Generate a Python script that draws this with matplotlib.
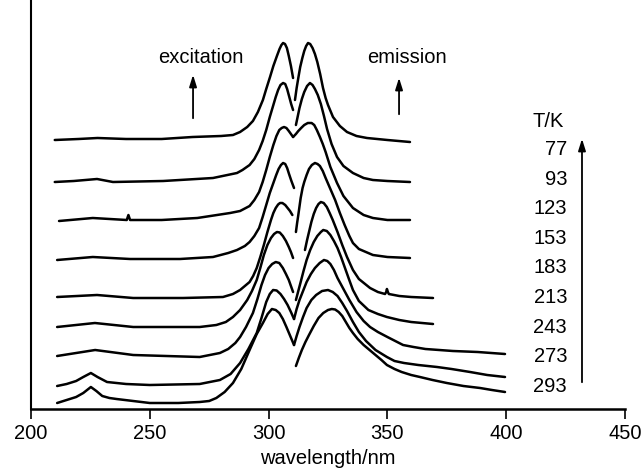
import matplotlib
matplotlib.use("Agg")
import matplotlib.pyplot as plt

plt.rcParams['font.family'] = ['Liberation Sans', 'DejaVu Sans']

# temperatures, top curve first
temps = [77, 93, 123, 153, 183, 213, 243, 273, 293]

# excitation / emission spectra (offset intensity, arb. units)
ex_nm_77 = [210, 220, 228, 240, 255, 268, 280, 285, 288, 291, 293.4, 295.5, 297.6, 299, 300.6, 302,
            303.5, 304.6, 305.4, 306.1, 306.9, 307.7, 308.5, 309.4, 310.3]
ex_in_77 = [269, 270, 271, 270, 270, 272, 273, 274, 277, 282, 288, 297, 309, 320, 332, 343,
            353, 360, 364, 366, 365, 361, 353, 343, 331]
em_nm_77 = [311.1, 311.8, 312.5, 313.3, 314.2, 315, 315.8, 316.6, 317.5, 318.5, 319.5, 320.5, 321.7,
            322.9, 324, 325, 327.1, 330, 333, 337, 341.4, 350, 359.5]
em_in_77 = [309, 321, 331, 342, 351, 358, 363, 366, 365, 361, 355, 347, 335,
            321, 311, 304, 292, 283, 277, 273, 271, 269, 267]

ex_nm_93 = [210, 218, 227.8, 234.5, 255.6, 276.6, 286.7, 289, 292, 294, 296, 297.5, 299, 300.5, 302,
            303, 304, 305, 306.1, 307, 307.8, 308.6, 309.5, 310.3]
ex_in_93 = [227, 228, 230, 227, 228, 231, 236, 239, 244, 250, 259, 268, 279, 292, 304,
            312, 319, 324, 326, 325, 320, 313, 305, 299]
em_nm_93 = [311.5, 312.3, 313, 314, 315, 316.2, 317.4, 318.5, 319.5, 320.7, 322, 323.3, 324.6,
            326.5, 328.8, 331.5, 335.5, 340, 343.9, 350, 359.5]
em_in_93 = [284, 293, 301, 310, 317, 323, 326, 324, 320, 314, 305, 293, 280,
            265, 252, 243, 236, 231, 229, 228, 227]

ex_nm_123 = [211.8, 226, 240.3, 241, 241.7, 255, 270, 283.8, 288, 292, 294, 296, 297.5, 299, 300.5,
             302, 303.3, 304.5, 305.5, 306.5, 307.5, 308.5, 309.4, 310.3]
ex_in_123 = [188, 191, 189, 194, 189, 189, 191, 196, 198, 203, 209, 217, 227, 239, 252,
             264, 273, 279, 281, 282, 281, 278, 275, 272]
em_nm_123 = [310.3, 311.5, 312.5, 313.7, 315, 316.5, 318.1, 319.2, 320.3, 321.6, 322.8, 324, 326,
             328.8, 331.5, 335.5, 340, 343.9, 350, 359.5]
em_in_123 = [272, 275, 278, 281, 284, 286, 286, 284, 279, 272, 265, 257, 242,
             226, 213, 201, 194, 191, 189, 189]

ex_nm_153 = [211, 226, 241.7, 262.7, 276.6, 283, 286.7, 290, 292, 294, 296, 297.5, 299, 300.5, 302,
             303.2, 304.2, 305.2, 306.1, 307, 307.8, 308.6, 309.6, 310.7]
ex_in_153 = [149, 152, 150, 150, 152, 156, 159, 163, 167, 173, 181, 192, 204, 216, 226,
             234, 240, 244, 246, 245, 241, 235, 228, 221]
em_nm_153 = [311.5, 312, 312.5, 313.5, 314.3, 315, 316, 317, 318.2, 319.5, 320.6, 321.6, 322.8, 324,
             326, 328, 330, 332, 334, 335.5, 338, 343.9, 350, 359.5]
em_in_153 = [177, 186, 194, 211, 221, 227, 234, 240, 244, 246, 245, 243, 238, 231,
             220, 209, 196, 184, 173, 166, 160, 154, 152, 151]

ex_nm_183 = [211, 227.8, 243, 264, 280.8, 285, 288, 290, 292, 293.5, 295, 296.5, 298, 299.5, 301,
             302, 303, 304, 304.8, 305.8, 307, 308, 309, 310]
ex_in_183 = [112, 114, 111, 111, 112, 115, 119, 123, 127, 133, 141, 152, 164, 177, 189,
             196, 201, 204.5, 206, 206, 204, 201, 198, 194]
em_nm_183 = [315.3, 316.2, 317, 318, 319, 320, 321, 322, 323.2, 324.5, 325.7, 327, 329, 331, 333,
             335.5, 338, 342.7, 346, 349, 349.5, 349.8, 350.2, 350.6, 355, 360, 369.2]
em_in_183 = [159, 169, 177, 187, 195, 201, 205, 207, 206, 202, 196, 189, 177, 164, 152,
             139, 130, 121, 117, 115, 117, 120, 117, 115, 113, 112, 111]

ex_nm_213 = [211, 226.9, 243, 271, 278, 282, 285, 288, 291, 293, 295, 296.5, 298, 299.5, 301,
             302.3, 303.5, 304.7, 306, 307.3, 308.5, 309.4, 310.3]
ex_in_213 = [82, 86, 82, 82, 84, 87, 92, 99, 109, 118, 129, 141, 154, 164, 171,
             175, 177, 176.5, 173, 168, 162, 157, 151]
em_nm_213 = [311.5, 312.5, 313.5, 314.7, 316, 317.5, 319, 320.5, 322, 323, 324.5, 326, 327.5, 329,
             330.5, 332, 333.8, 335.5, 338, 342, 346, 349.8, 355, 360, 369.2]
em_in_213 = [109, 118, 127, 138, 149, 159, 167, 173, 177, 179, 178, 174, 168, 161,
             152, 142, 130, 119, 108, 99, 95, 92, 89, 87, 85]

ex_nm_243 = [211, 227, 243, 271, 279.5, 283, 286, 288, 290.5, 293.4, 295.3, 297, 298.5, 300, 301.5,
             303, 304.5, 306, 307.3, 308.5, 309.4, 310.3]
ex_in_243 = [53, 59, 54, 52, 56, 60, 66, 72, 82, 96, 110, 124, 134, 141, 145,
             147, 146, 141, 135, 129, 123, 117]
em_nm_243 = [310.7, 311.8, 313, 314.5, 316, 317.8, 319.5, 321.5, 323.3, 324.7, 326, 327.5, 329,
             331.5, 334, 337, 340, 342.7, 346, 350, 356.6, 361, 366, 377.6, 388, 399.5]
em_in_243 = [90, 100, 109, 118, 127, 135, 141, 146, 149, 148, 145, 139, 131,
             120, 109, 97, 88, 82, 77, 72, 64, 62, 60, 58, 57, 55]

ex_nm_273 = [211, 215, 219, 222, 225.2, 228, 232, 240, 250, 271, 279.5, 284, 288, 291.5, 295, 297,
             299, 300.5, 301.9, 303.4, 305, 306.5, 308, 309.4, 310.7]
ex_in_273 = [23, 25, 28, 32, 36, 32, 27, 25, 24, 25, 29, 35, 46, 60, 76, 91,
             107, 115, 119, 118.5, 115, 110, 104, 97, 90]
em_nm_273 = [310.7, 311.8, 313, 314.5, 316, 318, 320, 322.5, 325, 327, 329, 331, 333, 335.5, 338,
             341, 345, 349.8, 353, 357, 363, 370.9, 377, 384.8, 392, 399.5]
em_in_273 = [64, 73, 82, 92, 101, 109, 114, 118, 119, 117, 113, 106, 98, 87, 77,
             68, 59, 52, 48, 46, 44, 42, 40, 37, 34, 32]

ex_nm_293 = [211, 215, 219, 222, 225.2, 227.5, 230, 233, 236, 243, 250, 262, 271, 275, 278, 281.5,
             285, 288.5, 292, 295, 297.6, 299.6, 301.4, 303, 304.5, 306, 307.5, 309.1, 310.7]
ex_in_293 = [6, 9, 12, 16, 22, 18, 13, 11, 10, 8, 6, 6, 7, 8, 11, 17,
             26, 40, 59, 75, 86, 95, 100, 99, 96, 90, 82, 73, 64]
em_nm_293 = [311.5, 312.7, 314, 315.5, 317, 319, 321, 323, 325, 326.6, 328, 329.5, 331, 332.5, 334,
             335.5, 337.5, 340, 342.5, 345, 347.5, 349.8, 353, 356, 360, 363.7, 369, 375, 382, 389,
             394, 399.5]
em_in_293 = [43, 51, 59, 67, 74, 83, 91, 96, 99, 100, 99.5, 97, 93, 87, 81,
             76, 70, 64, 59, 54, 49, 44, 40, 37, 34, 32, 29, 26, 23, 21,
             19, 17]

spectra = [
    (ex_nm_77, ex_in_77, em_nm_77, em_in_77),
    (ex_nm_93, ex_in_93, em_nm_93, em_in_93),
    (ex_nm_123, ex_in_123, em_nm_123, em_in_123),
    (ex_nm_153, ex_in_153, em_nm_153, em_in_153),
    (ex_nm_183, ex_in_183, em_nm_183, em_in_183),
    (ex_nm_213, ex_in_213, em_nm_213, em_in_213),
    (ex_nm_243, ex_in_243, em_nm_243, em_in_243),
    (ex_nm_273, ex_in_273, em_nm_273, em_in_273),
    (ex_nm_293, ex_in_293, em_nm_293, em_in_293),
]

fig = plt.figure(figsize=(6.43, 4.72), dpi=100)
ax = fig.add_axes([31 / 643, 63 / 472, 594 / 643, 409 / 472])

line_kw = dict(color="black", lw=1.8, solid_joinstyle="round", solid_capstyle="round")
for exx, exy, emx, emy in spectra:
    ax.plot(exx, exy, **line_kw)
    ax.plot(emx, emy, **line_kw)

ax.set_xlim(200, 450)
ax.set_ylim(0, 409)
ax.set_xticks([200, 250, 300, 350, 400, 450])
ax.set_yticks([])
ax.spines["top"].set_visible(False)
ax.spines["right"].set_visible(False)
ax.spines["left"].set_linewidth(1.5)
ax.spines["bottom"].set_linewidth(1.8)
ax.tick_params(axis="x", direction="out", length=7, width=1.2, labelsize=14.5, pad=4)
ax.set_xlabel("wavelength/nm", fontsize=14.5, labelpad=4)

# labels and arrows
arrow_kw = dict(arrowstyle="-|>,head_length=0.7,head_width=0.22", color="black", lw=1.3)
ax.text(253.5, 346, "excitation", fontsize=14.5, ha="left", va="baseline")
ax.annotate("", xy=(268.2, 337), xytext=(268.2, 288), arrowprops=arrow_kw)
ax.text(341.4, 346, "emission", fontsize=14.5, ha="left", va="baseline")
ax.annotate("", xy=(354.9, 334), xytext=(354.9, 292), arrowprops=arrow_kw)

ax.text(417.6, 282, "T/K", fontsize=14.5, ha="center", va="baseline")
for i, t in enumerate(temps):
    ax.text(425.6, 254 - i * 29.6, str(t), fontsize=14.5, ha="right", va="baseline")
ax.annotate("", xy=(431.9, 273), xytext=(431.9, 24), arrowprops=arrow_kw)

fig.savefig("out.png", dpi=100)
